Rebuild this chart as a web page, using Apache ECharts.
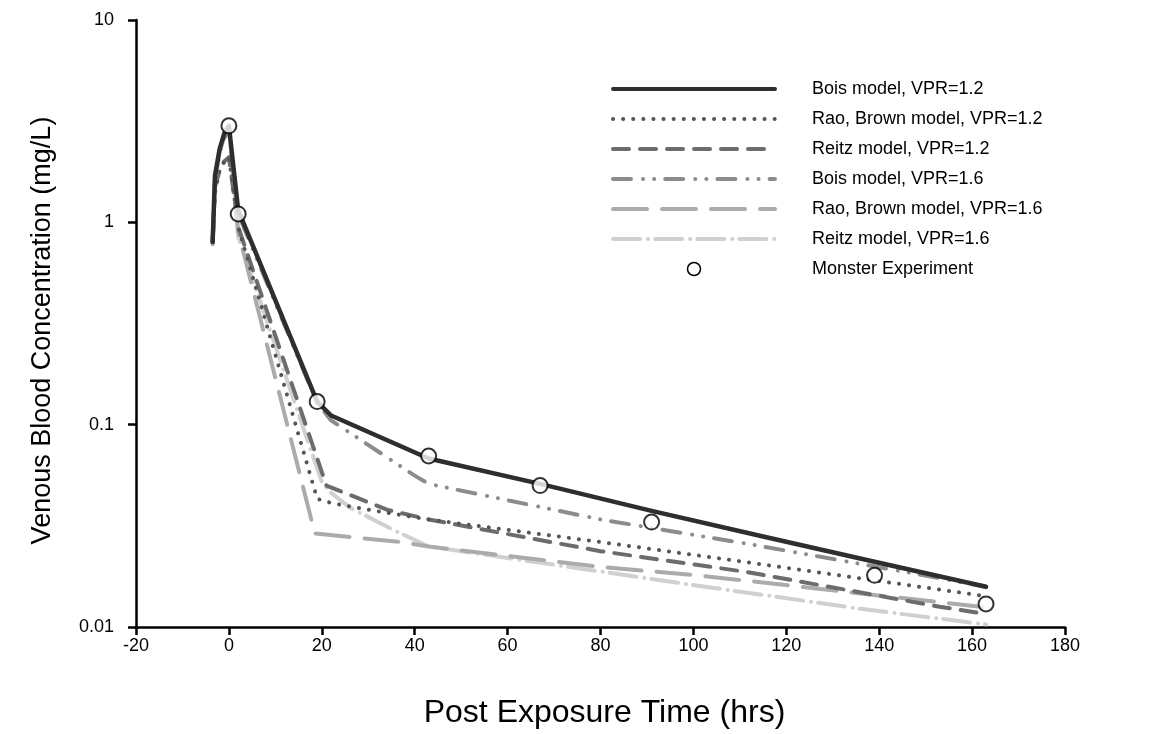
<!DOCTYPE html>
<html>
<head>
<meta charset="utf-8">
<script src="https://cdn.jsdelivr.net/npm/echarts@6/dist/echarts.min.js"></script>
<style>
  html, body { margin: 0; padding: 0; background: #fff; }
  #chart { width: 1159px; height: 734px; }
</style>
</head>
<body>
<div id="chart"></div>
<script>
// values (time in hrs, concentration in mg/L)
var bois12Time = [-3.5, -3, -2, -1, 0, 2, 19, 22, 43, 67, 91, 115, 139, 163];
var bois12Conc = [0.8, 1.7, 2.3, 2.75, 3.0, 1.15, 0.13, 0.111, 0.068, 0.051, 0.0375, 0.028, 0.021, 0.0158];

var rao12Time = [-3.5, -3, -2, -1, 0, 2, 19, 22, 30, 43, 80, 111.5, 163];
var rao12Conc = [0.8, 1.4, 1.8, 2.0, 2.1, 0.95, 0.043, 0.041, 0.038, 0.034, 0.0263, 0.0209, 0.0142];

var reitz12Time = [-3.5, -3, -2, -1, 0, 2, 21, 34, 43, 80, 111.5, 153, 163];
var reitz12Conc = [0.8, 1.5, 1.8, 2.0, 2.1, 0.95, 0.05, 0.038, 0.034, 0.0237, 0.0187, 0.0126, 0.0116];

var bois16Time = [-3.5, -3, -2, -1, 0, 2, 19, 22, 40, 43, 80, 112, 148, 163];
var bois16Conc = [0.8, 1.6, 2.2, 2.6, 2.9, 1.1, 0.128, 0.105, 0.056, 0.051, 0.034, 0.0257, 0.0183, 0.0158];

var rao16Time = [-3.5, -3, -2, -1, 0, 2, 18.5, 37, 43, 80, 101, 163];
var rao16Conc = [0.78, 1.6, 2.2, 2.7, 3.0, 0.9, 0.029, 0.0263, 0.025, 0.0198, 0.018, 0.0125];

var reitz16Time = [-3.5, -3, -2, -1, 0, 2, 20, 22, 26, 35, 43, 101, 136, 163];
var reitz16Conc = [0.78, 1.6, 2.2, 2.7, 3.0, 0.85, 0.052, 0.046, 0.039, 0.0305, 0.025, 0.016, 0.0123, 0.0103];

var expTime = [0, 2, 19, 43, 67, 91, 139, 163];
var expConc = [3.0, 1.1, 0.13, 0.07, 0.05, 0.033, 0.018, 0.013];

var seriesNames = [
    'Bois model, VPR=1.2',
    'Rao, Brown model, VPR=1.2',
    'Reitz model, VPR=1.2',
    'Bois model, VPR=1.6',
    'Rao, Brown model, VPR=1.6',
    'Reitz model, VPR=1.6',
    'Monster Experiment'
];

function pairs(t, v) {
    return t.map(function (x, i) { return [x, v[i]]; });
}

function lineSeries(name, t, v, color, width, dash, z) {
    return {
        name: name,
        type: 'line',
        data: pairs(t, v),
        symbol: 'none',
        z: z,
        lineStyle: { color: color, width: width, type: dash, cap: 'round', join: 'round' },
        itemStyle: { color: color }
    };
}

var FONT = 'Liberation Sans, Arial, sans-serif';

// legend entries: lines only, hollow circle for the experiment
var legendData = seriesNames.map(function (n, i) {
    if (i === 6) {
        return { name: n, itemStyle: { color: '#fff', borderColor: '#000', borderWidth: 1.5, opacity: 1 } };
    }
    return { name: n, itemStyle: { opacity: 0 } };
});

var chart = echarts.init(document.getElementById('chart'));
var option = {
    animation: false,
    backgroundColor: '#fff',
    grid: { left: 136, right: 94, top: 20, bottom: 106 },
    legend: {
        data: legendData,
        orient: 'vertical',
        left: 606,
        top: 75,
        itemWidth: 162,
        itemHeight: 13,
        itemGap: 12,
        lineStyle: { width: 4, cap: 'round' },
        textStyle: { fontFamily: FONT, fontSize: 18, color: '#000', padding: [0, 0, 0, 32] }
    },
    xAxis: {
        type: 'value',
        min: -20,
        max: 180,
        interval: 20,
        name: 'Post Exposure Time (hrs)',
        nameLocation: 'middle',
        nameGap: 70,
        nameTextStyle: { fontFamily: FONT, fontSize: 32, color: '#000', padding: [0, 0, 0, 8] },
        axisLine: { onZero: false, lineStyle: { color: '#000', width: 2.5 } },
        axisTick: { length: 8, lineStyle: { color: '#000', width: 2.5 } },
        axisLabel: { fontFamily: FONT, fontSize: 18, color: '#000', margin: 10 },
        splitLine: { show: false }
    },
    yAxis: {
        type: 'log',
        logBase: 10,
        min: 0.01,
        max: 10,
        name: 'Venous Blood Concentration (mg/L)',
        nameLocation: 'middle',
        nameGap: 80,
        nameTextStyle: { fontFamily: FONT, fontSize: 27, color: '#000', padding: [0, 14, 0, 0] },
        axisLine: { onZero: false, lineStyle: { color: '#000', width: 2.5 } },
        axisTick: { length: 8, lineStyle: { color: '#000', width: 2.5 } },
        minorTick: { show: false },
        axisLabel: { fontFamily: FONT, fontSize: 18, color: '#000', margin: 22 },
        splitLine: { show: false }
    },
    series: [
        lineSeries(seriesNames[0], bois12Time, bois12Conc, '#2e2e2e', 4.5, 'solid', 8),
        lineSeries(seriesNames[1], rao12Time, rao12Conc, '#555555', 4, [0.1, 10], 6),
        lineSeries(seriesNames[2], reitz12Time, reitz12Conc, '#6c6c6c', 4, [16, 11], 5),
        lineSeries(seriesNames[3], bois16Time, bois16Conc, '#8c8c8c', 4, [18, 12, 0.1, 11, 0.1, 11], 7),
        lineSeries(seriesNames[4], rao16Time, rao16Conc, '#ababab', 4, [34, 15], 4),
        lineSeries(seriesNames[5], reitz16Time, reitz16Conc, '#d0d0d0', 4, [27, 8, 0.1, 7], 3),
        {
            name: seriesNames[6],
            type: 'scatter',
            data: pairs(expTime, expConc),
            symbol: 'circle',
            symbolSize: 15,
            z: 10,
            itemStyle: { color: '#fff', borderColor: '#000', borderWidth: 2 }
        }
    ]
};
chart.setOption(option);
</script>
</body>
</html>
